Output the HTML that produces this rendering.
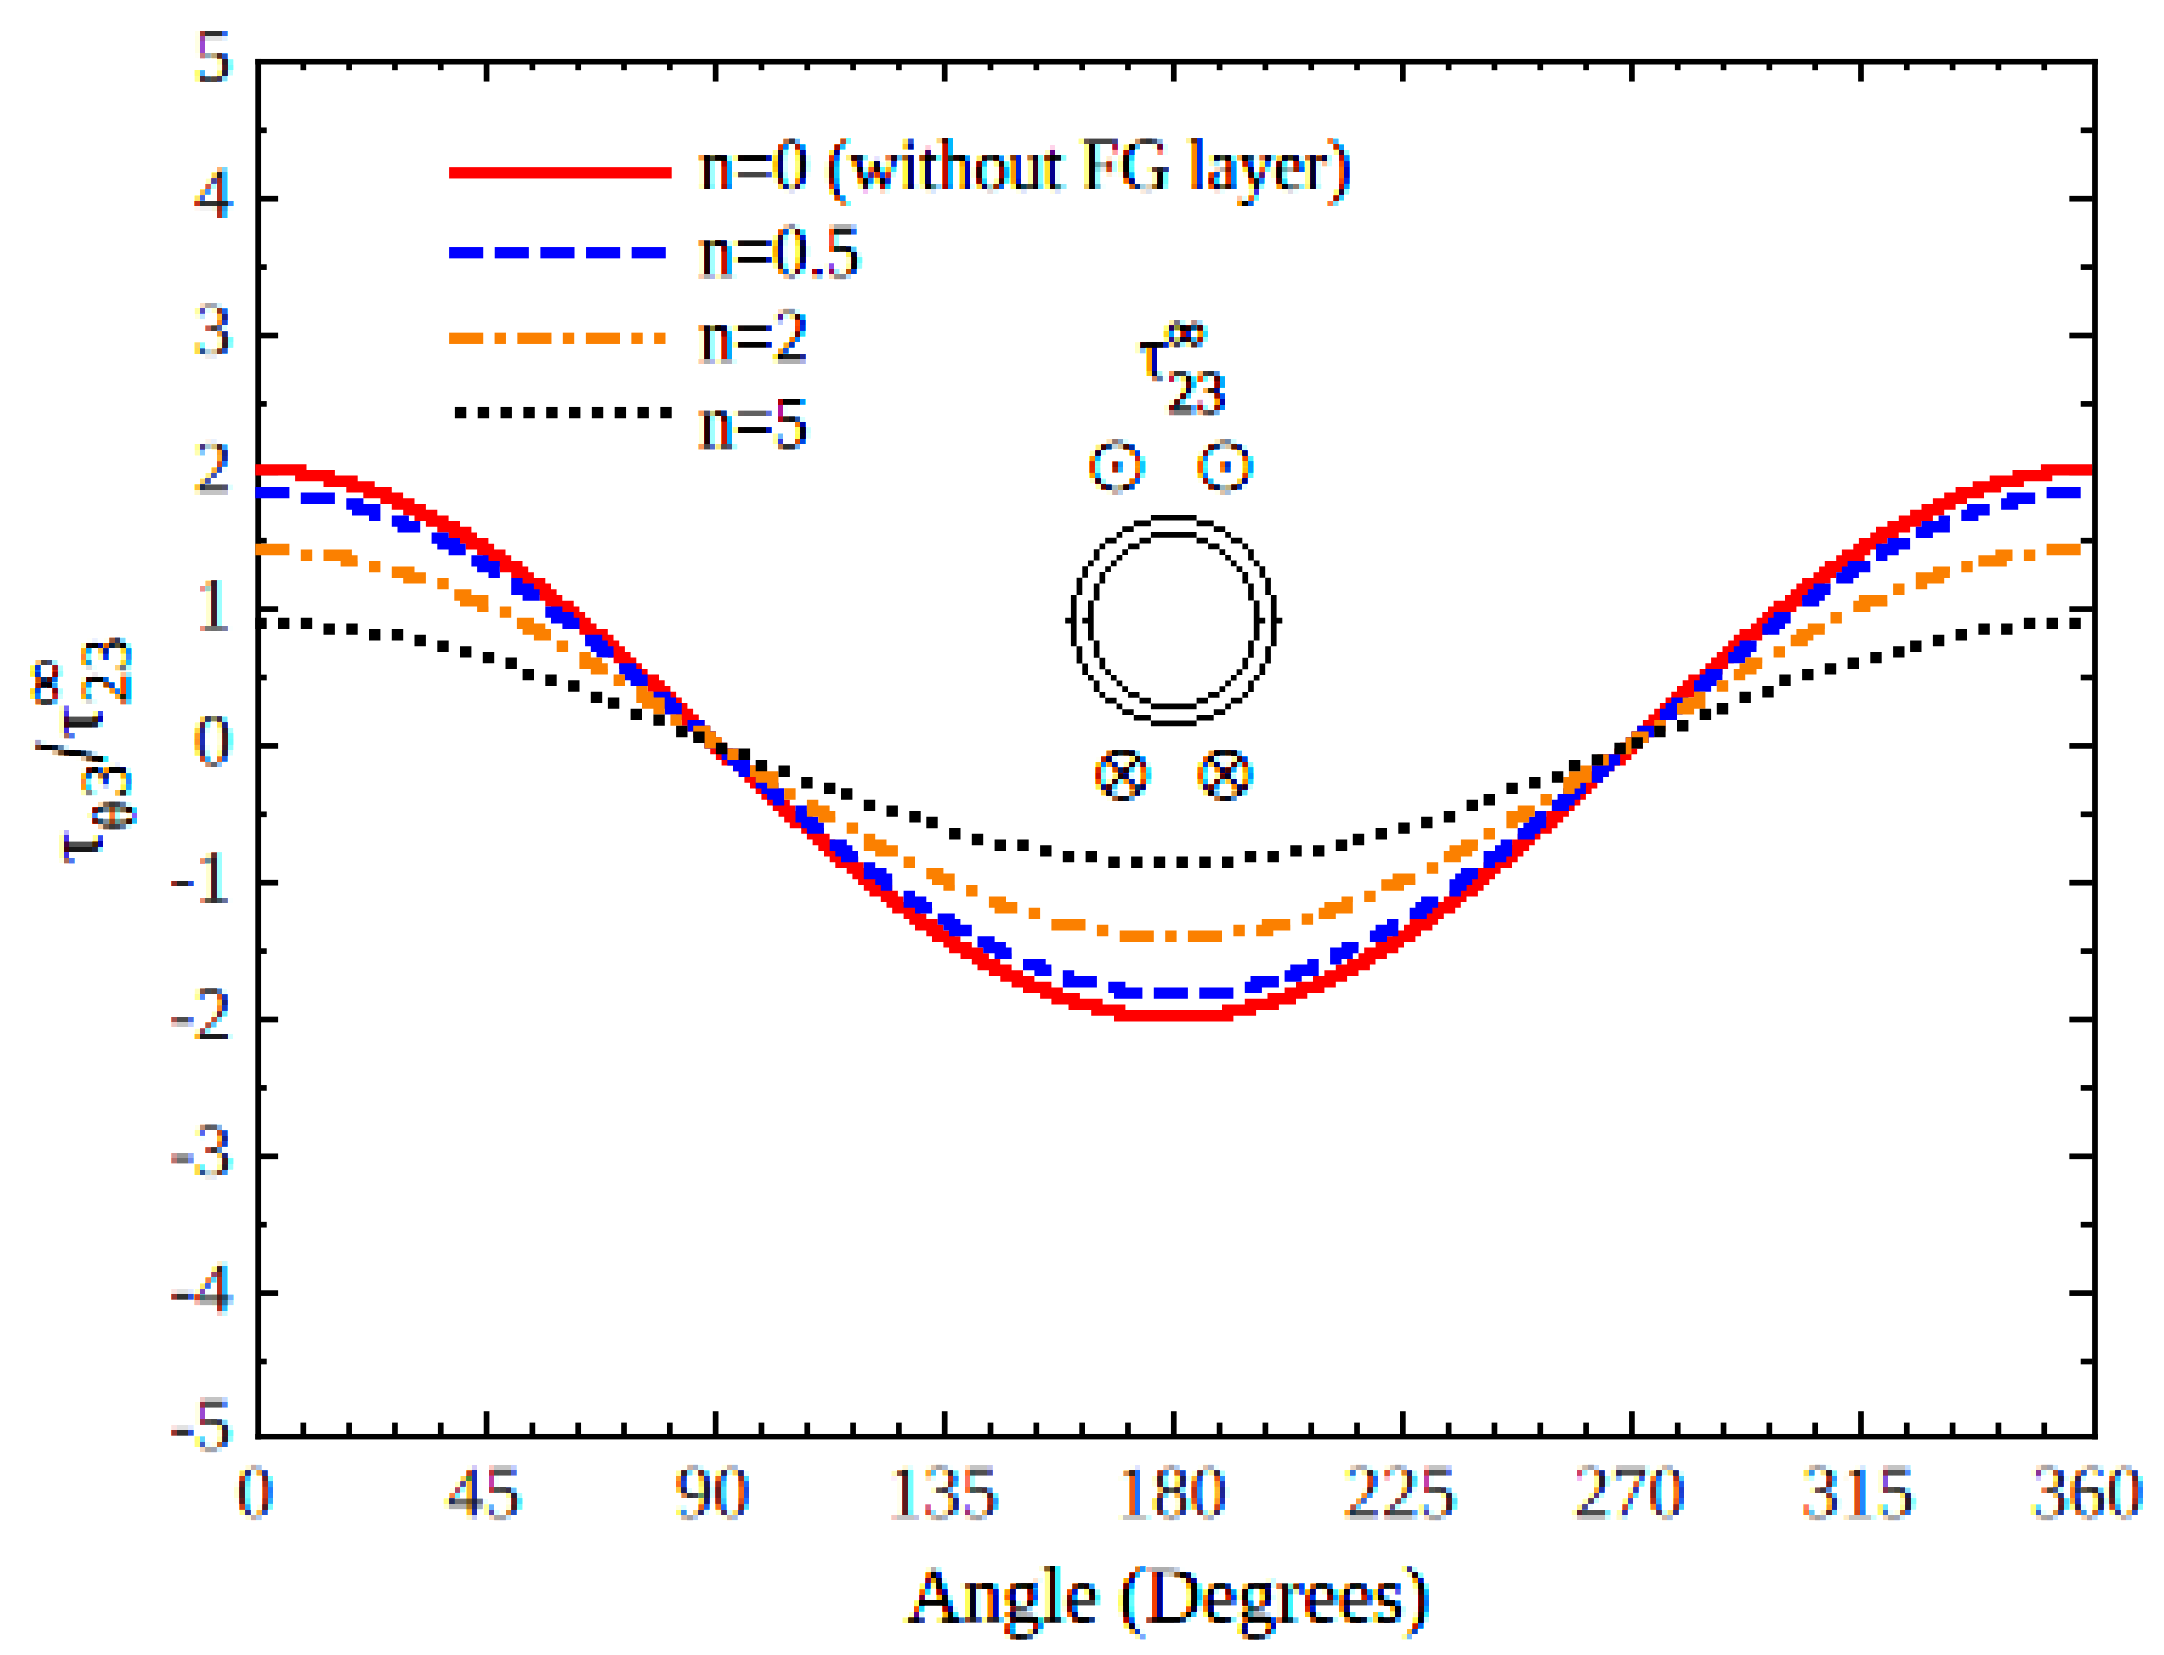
<!DOCTYPE html>
<html lang="en"><head><meta charset="utf-8"><title>Shear stress vs angle</title>
<style>
html,body{margin:0;padding:0;background:#fff}
svg{display:block}
text{font-family:"Liberation Serif","DejaVu Serif",serif;fill:#000;stroke:#000;stroke-width:0px}
.dg{fill-opacity:0.8}
text.ring{font-family:"DejaVu Sans",sans-serif}
</style></head>
<body>
<svg width="2164" height="1655" viewBox="0 0 2164 1655">
<rect width="2164" height="1655" fill="#fff"/>
<defs>
<filter id="pxa" x="0" y="0" width="237" height="1460" filterUnits="userSpaceOnUse" primitiveUnits="userSpaceOnUse" color-interpolation-filters="sRGB">
<feGaussianBlur in="SourceAlpha" stdDeviation="1.2 0.8" result="b0"/>
<feComponentTransfer in="b0" result="b"><feFuncA type="linear" slope="1.25" intercept="-0.1"/></feComponentTransfer>
<feFlood x="3" y="4" width="2" height="2" flood-color="#000" result="f0"/>
<feFlood x="3" y="10" width="2" height="2" flood-color="#000" result="f1"/>
<feFlood x="3" y="16" width="2" height="1" flood-color="#000" result="f2"/>
<feFlood x="9" y="4" width="2" height="2" flood-color="#000" result="f3"/>
<feFlood x="9" y="10" width="2" height="2" flood-color="#000" result="f4"/>
<feFlood x="9" y="16" width="2" height="1" flood-color="#000" result="f5"/>
<feFlood x="15" y="4" width="1" height="2" flood-color="#000" result="f6"/>
<feFlood x="15" y="10" width="1" height="2" flood-color="#000" result="f7"/>
<feFlood x="15" y="16" width="1" height="1" flood-color="#000" result="f8"/>
<feMerge x="1" y="2" width="17" height="17" result="c"><feMergeNode in="f0"/><feMergeNode in="f1"/><feMergeNode in="f2"/><feMergeNode in="f3"/><feMergeNode in="f4"/><feMergeNode in="f5"/><feMergeNode in="f6"/><feMergeNode in="f7"/><feMergeNode in="f8"/></feMerge>
<feTile in="c" result="t"/>
<feOffset in="b" dx="1.9" dy="0" result="or"/>
<feColorMatrix in="or" type="matrix" values="0 0 0 0 1  0 0 0 0 0  0 0 0 0 0  0 0 0 1 0" result="kr"/>
<feColorMatrix in="b" type="matrix" values="0 0 0 0 0  0 0 0 0 1  0 0 0 0 0  0 0 0 1 0" result="kg"/>
<feOffset in="b" dx="-1.9" dy="0" result="ob"/>
<feColorMatrix in="ob" type="matrix" values="0 0 0 0 0  0 0 0 0 0  0 0 0 0 1  0 0 0 1 0" result="kb"/>
<feComposite in="kr" in2="kg" operator="arithmetic" k1="0" k2="1" k3="1" k4="0" result="rg"/>
<feComposite in="rg" in2="kb" operator="arithmetic" k1="0" k2="1" k3="1" k4="0" result="rgb"/>
<feComposite in="rgb" in2="t" operator="in" result="smp"/>
<feComposite in="smp" in2="t" operator="over" result="smo"/>
<feMorphology in="smo" operator="dilate" radius="2" result="pix"/>
<feColorMatrix in="pix" type="matrix" values="-1 0 0 0 1  0 -1 0 0 1  0 0 -1 0 1  0 0 0 0 1"/>
</filter>
<filter id="pxb" x="0" y="1460" width="2164" height="195" filterUnits="userSpaceOnUse" primitiveUnits="userSpaceOnUse" color-interpolation-filters="sRGB">
<feGaussianBlur in="SourceAlpha" stdDeviation="1.2 0.8" result="b0"/>
<feComponentTransfer in="b0" result="b"><feFuncA type="linear" slope="1.25" intercept="-0.1"/></feComponentTransfer>
<feFlood x="3" y="1466" width="2" height="2" flood-color="#000" result="f0"/>
<feFlood x="3" y="1472" width="2" height="2" flood-color="#000" result="f1"/>
<feFlood x="3" y="1478" width="2" height="1" flood-color="#000" result="f2"/>
<feFlood x="9" y="1466" width="2" height="2" flood-color="#000" result="f3"/>
<feFlood x="9" y="1472" width="2" height="2" flood-color="#000" result="f4"/>
<feFlood x="9" y="1478" width="2" height="1" flood-color="#000" result="f5"/>
<feFlood x="15" y="1466" width="1" height="2" flood-color="#000" result="f6"/>
<feFlood x="15" y="1472" width="1" height="2" flood-color="#000" result="f7"/>
<feFlood x="15" y="1478" width="1" height="1" flood-color="#000" result="f8"/>
<feMerge x="1" y="1464" width="17" height="17" result="c"><feMergeNode in="f0"/><feMergeNode in="f1"/><feMergeNode in="f2"/><feMergeNode in="f3"/><feMergeNode in="f4"/><feMergeNode in="f5"/><feMergeNode in="f6"/><feMergeNode in="f7"/><feMergeNode in="f8"/></feMerge>
<feTile in="c" result="t"/>
<feOffset in="b" dx="1.9" dy="0" result="or"/>
<feColorMatrix in="or" type="matrix" values="0 0 0 0 1  0 0 0 0 0  0 0 0 0 0  0 0 0 1 0" result="kr"/>
<feColorMatrix in="b" type="matrix" values="0 0 0 0 0  0 0 0 0 1  0 0 0 0 0  0 0 0 1 0" result="kg"/>
<feOffset in="b" dx="-1.9" dy="0" result="ob"/>
<feColorMatrix in="ob" type="matrix" values="0 0 0 0 0  0 0 0 0 0  0 0 0 0 1  0 0 0 1 0" result="kb"/>
<feComposite in="kr" in2="kg" operator="arithmetic" k1="0" k2="1" k3="1" k4="0" result="rg"/>
<feComposite in="rg" in2="kb" operator="arithmetic" k1="0" k2="1" k3="1" k4="0" result="rgb"/>
<feComposite in="rgb" in2="t" operator="in" result="smp"/>
<feComposite in="smp" in2="t" operator="over" result="smo"/>
<feMorphology in="smo" operator="dilate" radius="2" result="pix"/>
<feColorMatrix in="pix" type="matrix" values="-1 0 0 0 1  0 -1 0 0 1  0 0 -1 0 1  0 0 0 0 1"/>
</filter>
<filter id="pxc" x="690" y="120" width="680" height="350" filterUnits="userSpaceOnUse" primitiveUnits="userSpaceOnUse" color-interpolation-filters="sRGB">
<feGaussianBlur in="SourceAlpha" stdDeviation="1.2 0.8" result="b0"/>
<feComponentTransfer in="b0" result="b"><feFuncA type="linear" slope="1.25" intercept="-0.1"/></feComponentTransfer>
<feFlood x="700" y="123" width="2" height="2" flood-color="#000" result="f0"/>
<feFlood x="700" y="129" width="2" height="2" flood-color="#000" result="f1"/>
<feFlood x="700" y="135" width="2" height="1" flood-color="#000" result="f2"/>
<feFlood x="706" y="123" width="2" height="2" flood-color="#000" result="f3"/>
<feFlood x="706" y="129" width="2" height="2" flood-color="#000" result="f4"/>
<feFlood x="706" y="135" width="2" height="1" flood-color="#000" result="f5"/>
<feFlood x="712" y="123" width="1" height="2" flood-color="#000" result="f6"/>
<feFlood x="712" y="129" width="1" height="2" flood-color="#000" result="f7"/>
<feFlood x="712" y="135" width="1" height="1" flood-color="#000" result="f8"/>
<feMerge x="698" y="121" width="17" height="17" result="c"><feMergeNode in="f0"/><feMergeNode in="f1"/><feMergeNode in="f2"/><feMergeNode in="f3"/><feMergeNode in="f4"/><feMergeNode in="f5"/><feMergeNode in="f6"/><feMergeNode in="f7"/><feMergeNode in="f8"/></feMerge>
<feTile in="c" result="t"/>
<feOffset in="b" dx="1.9" dy="0" result="or"/>
<feColorMatrix in="or" type="matrix" values="0 0 0 0 1  0 0 0 0 0  0 0 0 0 0  0 0 0 1 0" result="kr"/>
<feColorMatrix in="b" type="matrix" values="0 0 0 0 0  0 0 0 0 1  0 0 0 0 0  0 0 0 1 0" result="kg"/>
<feOffset in="b" dx="-1.9" dy="0" result="ob"/>
<feColorMatrix in="ob" type="matrix" values="0 0 0 0 0  0 0 0 0 0  0 0 0 0 1  0 0 0 1 0" result="kb"/>
<feComposite in="kr" in2="kg" operator="arithmetic" k1="0" k2="1" k3="1" k4="0" result="rg"/>
<feComposite in="rg" in2="kb" operator="arithmetic" k1="0" k2="1" k3="1" k4="0" result="rgb"/>
<feComposite in="rgb" in2="t" operator="in" result="smp"/>
<feComposite in="smp" in2="t" operator="over" result="smo"/>
<feMorphology in="smo" operator="dilate" radius="2" result="pix"/>
<feColorMatrix in="pix" type="matrix" values="-1 0 0 0 1  0 -1 0 0 1  0 0 -1 0 1  0 0 0 0 1"/>
</filter>
<filter id="pxd" x="1070" y="300" width="200" height="530" filterUnits="userSpaceOnUse" primitiveUnits="userSpaceOnUse" color-interpolation-filters="sRGB">
<feGaussianBlur in="SourceAlpha" stdDeviation="1.2 0.8" result="b0"/>
<feComponentTransfer in="b0" result="b"><feFuncA type="linear" slope="1.25" intercept="-0.1"/></feComponentTransfer>
<feFlood x="1074" y="310" width="2" height="2" flood-color="#000" result="f0"/>
<feFlood x="1074" y="316" width="2" height="2" flood-color="#000" result="f1"/>
<feFlood x="1074" y="322" width="2" height="1" flood-color="#000" result="f2"/>
<feFlood x="1080" y="310" width="2" height="2" flood-color="#000" result="f3"/>
<feFlood x="1080" y="316" width="2" height="2" flood-color="#000" result="f4"/>
<feFlood x="1080" y="322" width="2" height="1" flood-color="#000" result="f5"/>
<feFlood x="1086" y="310" width="1" height="2" flood-color="#000" result="f6"/>
<feFlood x="1086" y="316" width="1" height="2" flood-color="#000" result="f7"/>
<feFlood x="1086" y="322" width="1" height="1" flood-color="#000" result="f8"/>
<feMerge x="1072" y="308" width="17" height="17" result="c"><feMergeNode in="f0"/><feMergeNode in="f1"/><feMergeNode in="f2"/><feMergeNode in="f3"/><feMergeNode in="f4"/><feMergeNode in="f5"/><feMergeNode in="f6"/><feMergeNode in="f7"/><feMergeNode in="f8"/></feMerge>
<feTile in="c" result="t"/>
<feOffset in="b" dx="1.9" dy="0" result="or"/>
<feColorMatrix in="or" type="matrix" values="0 0 0 0 1  0 0 0 0 0  0 0 0 0 0  0 0 0 1 0" result="kr"/>
<feColorMatrix in="b" type="matrix" values="0 0 0 0 0  0 0 0 0 1  0 0 0 0 0  0 0 0 1 0" result="kg"/>
<feOffset in="b" dx="-1.9" dy="0" result="ob"/>
<feColorMatrix in="ob" type="matrix" values="0 0 0 0 0  0 0 0 0 0  0 0 0 0 1  0 0 0 1 0" result="kb"/>
<feComposite in="kr" in2="kg" operator="arithmetic" k1="0" k2="1" k3="1" k4="0" result="rg"/>
<feComposite in="rg" in2="kb" operator="arithmetic" k1="0" k2="1" k3="1" k4="0" result="rgb"/>
<feComposite in="rgb" in2="t" operator="in" result="smp"/>
<feComposite in="smp" in2="t" operator="over" result="smo"/>
<feMorphology in="smo" operator="dilate" radius="2" result="pix"/>
<feColorMatrix in="pix" type="matrix" values="-1 0 0 0 1  0 -1 0 0 1  0 0 -1 0 1  0 0 0 0 1"/>
</filter>
</defs>
<g filter="url(#pxa)">
<text x="232" y="1449.4" text-anchor="end" font-size="75" class="dg">-5</text>
<text x="232" y="1312.6" text-anchor="end" font-size="75" class="dg">-4</text>
<text x="232" y="1175.8" text-anchor="end" font-size="75" class="dg">-3</text>
<text x="232" y="1039.0" text-anchor="end" font-size="75" class="dg">-2</text>
<text x="232" y="902.2" text-anchor="end" font-size="75" class="dg">-1</text>
<text x="232" y="765.4" text-anchor="end" font-size="75" class="dg">0</text>
<text x="232" y="628.6" text-anchor="end" font-size="75" class="dg">1</text>
<text x="232" y="491.8" text-anchor="end" font-size="75" class="dg">2</text>
<text x="232" y="355.0" text-anchor="end" font-size="75" class="dg">3</text>
<text x="232" y="218.2" text-anchor="end" font-size="75" class="dg">4</text>
<text x="232" y="81.4" text-anchor="end" font-size="75" class="dg">5</text>
<g transform="translate(101,863) rotate(-90)"><text x="0" y="0" font-size="80">τ</text><text x="33" y="33" font-size="60">θ</text><text x="66" y="27" font-size="68">3</text><text transform="translate(102.5,0) scale(0.68,1.1)" x="0" y="0" font-size="88" style="stroke-width:3.2px">/</text><text x="125" y="0" font-size="80">τ</text><text x="158" y="27" font-size="68">23</text><text x="157" y="-36" font-size="66">∞</text></g>
</g>
<g filter="url(#pxb)">
<text x="255.0" y="1516.5" text-anchor="middle" font-size="75" class="dg">0</text>
<text x="484.1" y="1516.5" text-anchor="middle" font-size="75" class="dg">45</text>
<text x="713.1" y="1516.5" text-anchor="middle" font-size="75" class="dg">90</text>
<text x="942.2" y="1516.5" text-anchor="middle" font-size="75" class="dg">135</text>
<text x="1171.3" y="1516.5" text-anchor="middle" font-size="75" class="dg">180</text>
<text x="1400.3" y="1516.5" text-anchor="middle" font-size="75" class="dg">225</text>
<text x="1629.4" y="1516.5" text-anchor="middle" font-size="75" class="dg">270</text>
<text x="1858.5" y="1516.5" text-anchor="middle" font-size="75" class="dg">315</text>
<text x="2087.5" y="1516.5" text-anchor="middle" font-size="75" class="dg">360</text>
<text x="1168" y="1620.5" text-anchor="middle" font-size="79">Angle (Degrees)</text>
</g>
<g filter="url(#pxc)">
<text x="699" y="189.5" font-size="75" textLength="652" lengthAdjust="spacingAndGlyphs">n=0 (without FG layer)</text>
<text x="699" y="275.5" font-size="75" textLength="161.5" lengthAdjust="spacingAndGlyphs">n=0.5</text>
<text x="699" y="361" font-size="75" textLength="109.4" lengthAdjust="spacingAndGlyphs">n=2</text>
<text x="699" y="446.5" font-size="75" textLength="109.4" lengthAdjust="spacingAndGlyphs">n=5</text>
</g>
<g filter="url(#pxd)">
<text x="1138" y="378" font-size="76">τ</text>
<text x="1166" y="350" font-size="56" style="stroke-width:1.6px">∞</text>
<text x="1167" y="412" font-size="59" style="stroke-width:1px">23</text>
<text class="ring" x="1088.0" y="483.5" font-size="66">○</text><text x="1105.2" y="489.8" font-size="70">·</text>
<text class="ring" x="1196.5" y="483.5" font-size="66">○</text><text x="1213.7" y="489.8" font-size="70">·</text>
<text class="ring" x="1093.8" y="791.5" font-size="66">○</text><text x="1100.1" y="801.1" font-size="80" style="stroke-width:0.3px">×</text>
<text class="ring" x="1196.5" y="791.5" font-size="66">○</text><text x="1202.8" y="801.1" font-size="80" style="stroke-width:0.3px">×</text>
</g>
<rect x="255.30" y="58.95" width="5.75" height="1380.45" fill="#000"/>
<rect x="2092.10" y="58.95" width="5.75" height="1380.45" fill="#000"/>
<rect x="255.30" y="58.95" width="1842.55" height="5.55" fill="#000"/>
<rect x="255.30" y="1433.97" width="1842.55" height="5.43" fill="#000"/>
<rect x="300.47" y="64.00" width="5.69" height="6.19" fill="#000"/>
<rect x="300.47" y="1422.60" width="5.69" height="11.87" fill="#000"/>
<rect x="346.28" y="64.00" width="5.69" height="6.19" fill="#000"/>
<rect x="346.28" y="1422.60" width="5.69" height="11.87" fill="#000"/>
<rect x="392.10" y="64.00" width="5.69" height="6.19" fill="#000"/>
<rect x="392.10" y="1422.60" width="5.69" height="11.87" fill="#000"/>
<rect x="437.91" y="64.00" width="5.69" height="6.19" fill="#000"/>
<rect x="437.91" y="1422.60" width="5.69" height="11.87" fill="#000"/>
<rect x="483.72" y="64.00" width="5.69" height="17.56" fill="#000"/>
<rect x="483.72" y="1411.22" width="5.69" height="23.25" fill="#000"/>
<rect x="529.54" y="64.00" width="5.69" height="6.19" fill="#000"/>
<rect x="529.54" y="1422.60" width="5.69" height="11.87" fill="#000"/>
<rect x="575.35" y="64.00" width="5.69" height="6.19" fill="#000"/>
<rect x="575.35" y="1422.60" width="5.69" height="11.87" fill="#000"/>
<rect x="621.17" y="64.00" width="5.69" height="6.19" fill="#000"/>
<rect x="621.17" y="1422.60" width="5.69" height="11.87" fill="#000"/>
<rect x="666.98" y="64.00" width="5.69" height="6.19" fill="#000"/>
<rect x="666.98" y="1422.60" width="5.69" height="11.87" fill="#000"/>
<rect x="712.79" y="64.00" width="5.69" height="17.56" fill="#000"/>
<rect x="712.79" y="1411.22" width="5.69" height="23.25" fill="#000"/>
<rect x="758.61" y="64.00" width="5.69" height="6.19" fill="#000"/>
<rect x="758.61" y="1422.60" width="5.69" height="11.87" fill="#000"/>
<rect x="804.42" y="64.00" width="5.69" height="6.19" fill="#000"/>
<rect x="804.42" y="1422.60" width="5.69" height="11.87" fill="#000"/>
<rect x="850.23" y="64.00" width="5.69" height="6.19" fill="#000"/>
<rect x="850.23" y="1422.60" width="5.69" height="11.87" fill="#000"/>
<rect x="896.05" y="64.00" width="5.69" height="6.19" fill="#000"/>
<rect x="896.05" y="1422.60" width="5.69" height="11.87" fill="#000"/>
<rect x="941.86" y="64.00" width="5.69" height="17.56" fill="#000"/>
<rect x="941.86" y="1411.22" width="5.69" height="23.25" fill="#000"/>
<rect x="987.67" y="64.00" width="5.69" height="6.19" fill="#000"/>
<rect x="987.67" y="1422.60" width="5.69" height="11.87" fill="#000"/>
<rect x="1033.49" y="64.00" width="5.69" height="6.19" fill="#000"/>
<rect x="1033.49" y="1422.60" width="5.69" height="11.87" fill="#000"/>
<rect x="1079.30" y="64.00" width="5.69" height="6.19" fill="#000"/>
<rect x="1079.30" y="1422.60" width="5.69" height="11.87" fill="#000"/>
<rect x="1125.12" y="64.00" width="5.69" height="6.19" fill="#000"/>
<rect x="1125.12" y="1422.60" width="5.69" height="11.87" fill="#000"/>
<rect x="1170.93" y="64.00" width="5.69" height="17.56" fill="#000"/>
<rect x="1170.93" y="1411.22" width="5.69" height="23.25" fill="#000"/>
<rect x="1216.74" y="64.00" width="5.69" height="6.19" fill="#000"/>
<rect x="1216.74" y="1422.60" width="5.69" height="11.87" fill="#000"/>
<rect x="1262.56" y="64.00" width="5.69" height="6.19" fill="#000"/>
<rect x="1262.56" y="1422.60" width="5.69" height="11.87" fill="#000"/>
<rect x="1308.37" y="64.00" width="5.69" height="6.19" fill="#000"/>
<rect x="1308.37" y="1422.60" width="5.69" height="11.87" fill="#000"/>
<rect x="1354.18" y="64.00" width="5.69" height="6.19" fill="#000"/>
<rect x="1354.18" y="1422.60" width="5.69" height="11.87" fill="#000"/>
<rect x="1400.00" y="64.00" width="5.69" height="17.56" fill="#000"/>
<rect x="1400.00" y="1411.22" width="5.69" height="23.25" fill="#000"/>
<rect x="1445.81" y="64.00" width="5.69" height="6.19" fill="#000"/>
<rect x="1445.81" y="1422.60" width="5.69" height="11.87" fill="#000"/>
<rect x="1491.62" y="64.00" width="5.69" height="6.19" fill="#000"/>
<rect x="1491.62" y="1422.60" width="5.69" height="11.87" fill="#000"/>
<rect x="1537.44" y="64.00" width="5.69" height="6.19" fill="#000"/>
<rect x="1537.44" y="1422.60" width="5.69" height="11.87" fill="#000"/>
<rect x="1583.25" y="64.00" width="5.69" height="6.19" fill="#000"/>
<rect x="1583.25" y="1422.60" width="5.69" height="11.87" fill="#000"/>
<rect x="1629.06" y="64.00" width="5.69" height="17.56" fill="#000"/>
<rect x="1629.06" y="1411.22" width="5.69" height="23.25" fill="#000"/>
<rect x="1674.88" y="64.00" width="5.69" height="6.19" fill="#000"/>
<rect x="1674.88" y="1422.60" width="5.69" height="11.87" fill="#000"/>
<rect x="1720.69" y="64.00" width="5.69" height="6.19" fill="#000"/>
<rect x="1720.69" y="1422.60" width="5.69" height="11.87" fill="#000"/>
<rect x="1766.51" y="64.00" width="5.69" height="6.19" fill="#000"/>
<rect x="1766.51" y="1422.60" width="5.69" height="11.87" fill="#000"/>
<rect x="1812.32" y="64.00" width="5.69" height="6.19" fill="#000"/>
<rect x="1812.32" y="1422.60" width="5.69" height="11.87" fill="#000"/>
<rect x="1858.13" y="64.00" width="5.69" height="17.56" fill="#000"/>
<rect x="1858.13" y="1411.22" width="5.69" height="23.25" fill="#000"/>
<rect x="1903.95" y="64.00" width="5.69" height="6.19" fill="#000"/>
<rect x="1903.95" y="1422.60" width="5.69" height="11.87" fill="#000"/>
<rect x="1949.76" y="64.00" width="5.69" height="6.19" fill="#000"/>
<rect x="1949.76" y="1422.60" width="5.69" height="11.87" fill="#000"/>
<rect x="1995.57" y="64.00" width="5.69" height="6.19" fill="#000"/>
<rect x="1995.57" y="1422.60" width="5.69" height="11.87" fill="#000"/>
<rect x="2041.39" y="64.00" width="5.69" height="6.19" fill="#000"/>
<rect x="2041.39" y="1422.60" width="5.69" height="11.87" fill="#000"/>
<rect x="260.55" y="1358.66" width="6.19" height="5.69" fill="#000"/>
<rect x="2080.73" y="1358.66" width="11.87" height="5.69" fill="#000"/>
<rect x="260.55" y="1290.26" width="17.56" height="5.69" fill="#000"/>
<rect x="2069.35" y="1290.26" width="23.25" height="5.69" fill="#000"/>
<rect x="260.55" y="1221.86" width="6.19" height="5.69" fill="#000"/>
<rect x="2080.73" y="1221.86" width="11.87" height="5.69" fill="#000"/>
<rect x="260.55" y="1153.46" width="17.56" height="5.69" fill="#000"/>
<rect x="2069.35" y="1153.46" width="23.25" height="5.69" fill="#000"/>
<rect x="260.55" y="1085.06" width="6.19" height="5.69" fill="#000"/>
<rect x="2080.73" y="1085.06" width="11.87" height="5.69" fill="#000"/>
<rect x="260.55" y="1016.66" width="17.56" height="5.69" fill="#000"/>
<rect x="2069.35" y="1016.66" width="23.25" height="5.69" fill="#000"/>
<rect x="260.55" y="948.26" width="6.19" height="5.69" fill="#000"/>
<rect x="2080.73" y="948.26" width="11.87" height="5.69" fill="#000"/>
<rect x="260.55" y="879.86" width="17.56" height="5.69" fill="#000"/>
<rect x="2069.35" y="879.86" width="23.25" height="5.69" fill="#000"/>
<rect x="260.55" y="811.46" width="6.19" height="5.69" fill="#000"/>
<rect x="2080.73" y="811.46" width="11.87" height="5.69" fill="#000"/>
<rect x="260.55" y="743.06" width="17.56" height="5.69" fill="#000"/>
<rect x="2069.35" y="743.06" width="23.25" height="5.69" fill="#000"/>
<rect x="260.55" y="674.66" width="6.19" height="5.69" fill="#000"/>
<rect x="2080.73" y="674.66" width="11.87" height="5.69" fill="#000"/>
<rect x="260.55" y="606.26" width="17.56" height="5.69" fill="#000"/>
<rect x="2069.35" y="606.26" width="23.25" height="5.69" fill="#000"/>
<rect x="260.55" y="537.86" width="6.19" height="5.69" fill="#000"/>
<rect x="2080.73" y="537.86" width="11.87" height="5.69" fill="#000"/>
<rect x="260.55" y="469.46" width="17.56" height="5.69" fill="#000"/>
<rect x="2069.35" y="469.46" width="23.25" height="5.69" fill="#000"/>
<rect x="260.55" y="401.06" width="6.19" height="5.69" fill="#000"/>
<rect x="2080.73" y="401.06" width="11.87" height="5.69" fill="#000"/>
<rect x="260.55" y="332.66" width="17.56" height="5.69" fill="#000"/>
<rect x="2069.35" y="332.66" width="23.25" height="5.69" fill="#000"/>
<rect x="260.55" y="264.26" width="6.19" height="5.69" fill="#000"/>
<rect x="2080.73" y="264.26" width="11.87" height="5.69" fill="#000"/>
<rect x="260.55" y="195.86" width="17.56" height="5.69" fill="#000"/>
<rect x="2069.35" y="195.86" width="23.25" height="5.69" fill="#000"/>
<rect x="260.55" y="127.46" width="6.19" height="5.69" fill="#000"/>
<rect x="2080.73" y="127.46" width="11.87" height="5.69" fill="#000"/>
<rect x="449.10" y="167.15" width="222.60" height="11.30" fill="#ff0000"/>
<rect x="449.10" y="247.05" width="34.12" height="11.30" fill="#0000ff"/>
<rect x="494.74" y="247.05" width="34.12" height="11.30" fill="#0000ff"/>
<rect x="540.39" y="247.05" width="34.12" height="11.30" fill="#0000ff"/>
<rect x="586.03" y="247.05" width="34.12" height="11.30" fill="#0000ff"/>
<rect x="631.67" y="247.05" width="34.12" height="11.30" fill="#0000ff"/>
<rect x="449.10" y="332.65" width="34.12" height="11.30" fill="#fb8000"/>
<rect x="494.59" y="332.65" width="11.37" height="11.30" fill="#fb8000"/>
<rect x="517.34" y="332.65" width="34.12" height="11.30" fill="#fb8000"/>
<rect x="562.83" y="332.65" width="11.37" height="11.30" fill="#fb8000"/>
<rect x="585.88" y="332.65" width="34.12" height="11.30" fill="#fb8000"/>
<rect x="631.37" y="332.65" width="11.37" height="11.30" fill="#fb8000"/>
<rect x="654.12" y="332.65" width="11.37" height="11.30" fill="#fb8000"/>
<rect x="454.90" y="406.95" width="11.37" height="11.30" fill="#000"/>
<rect x="477.73" y="406.95" width="11.37" height="11.30" fill="#000"/>
<rect x="500.55" y="406.95" width="11.37" height="11.30" fill="#000"/>
<rect x="523.38" y="406.95" width="11.37" height="11.30" fill="#000"/>
<rect x="546.21" y="406.95" width="11.37" height="11.30" fill="#000"/>
<rect x="569.03" y="406.95" width="11.37" height="11.30" fill="#000"/>
<rect x="591.86" y="406.95" width="11.37" height="11.30" fill="#000"/>
<rect x="614.69" y="406.95" width="11.37" height="11.30" fill="#000"/>
<rect x="637.51" y="406.95" width="11.37" height="11.30" fill="#000"/>
<rect x="660.34" y="406.95" width="11.37" height="11.30" fill="#000"/>
<path d="M255.3 464.2h51.2v5.7h-51.2zM2040.9 464.2h51.2v5.7h-51.2zM255.3 469.9h79.6v5.7h-79.6zM2012.5 469.9h79.6v5.7h-79.6zM295.1 475.6h62.6v5.7h-62.6zM1989.7 475.6h62.6v5.7h-62.6zM323.5 481.3h51.2v5.7h-51.2zM1972.7 481.3h51.2v5.7h-51.2zM346.3 486.9h45.5v5.7h-45.5zM1955.6 486.9h45.5v5.7h-45.5zM363.3 492.6h39.8v5.7h-39.8zM1944.2 492.6h39.8v5.7h-39.8zM380.4 498.3h34.1v5.7h-34.1zM1932.9 498.3h34.1v5.7h-34.1zM391.8 504.0h34.1v5.7h-34.1zM1921.5 504.0h34.1v5.7h-34.1zM403.2 509.7h34.1v5.7h-34.1zM1910.1 509.7h34.1v5.7h-34.1zM414.5 515.4h34.1v5.7h-34.1zM1898.8 515.4h34.1v5.7h-34.1zM425.9 521.1h34.1v5.7h-34.1zM1887.4 521.1h34.1v5.7h-34.1zM437.3 526.8h34.1v5.7h-34.1zM1876.0 526.8h34.1v5.7h-34.1zM448.6 532.4h28.4v5.7h-28.4zM1870.3 532.4h28.4v5.7h-28.4zM460.0 538.1h28.4v5.7h-28.4zM1858.9 538.1h28.4v5.7h-28.4zM465.7 543.8h28.4v5.7h-28.4zM1853.3 543.8h28.4v5.7h-28.4zM477.1 549.5h28.4v5.7h-28.4zM1841.9 549.5h28.4v5.7h-28.4zM482.8 555.2h28.4v5.7h-28.4zM1836.2 555.2h28.4v5.7h-28.4zM494.1 560.9h28.4v5.7h-28.4zM1824.8 560.9h28.4v5.7h-28.4zM499.8 566.6h28.4v5.7h-28.4zM1819.1 566.6h28.4v5.7h-28.4zM511.2 572.2h22.7v5.7h-22.7zM1813.5 572.2h22.7v5.7h-22.7zM516.9 577.9h28.4v5.7h-28.4zM1802.1 577.9h28.4v5.7h-28.4zM522.6 583.6h28.4v5.7h-28.4zM1796.4 583.6h28.4v5.7h-28.4zM533.9 589.3h22.7v5.7h-22.7zM1790.7 589.3h22.7v5.7h-22.7zM539.6 595.0h22.7v5.7h-22.7zM1785.0 595.0h22.7v5.7h-22.7zM545.3 600.7h28.4v5.7h-28.4zM1773.6 600.7h28.4v5.7h-28.4zM551.0 606.4h28.4v5.7h-28.4zM1768.0 606.4h28.4v5.7h-28.4zM562.4 612.1h22.7v5.7h-22.7zM1762.3 612.1h22.7v5.7h-22.7zM568.1 617.7h22.7v5.7h-22.7zM1756.6 617.7h22.7v5.7h-22.7zM573.8 623.4h22.7v5.7h-22.7zM1750.9 623.4h22.7v5.7h-22.7zM579.4 629.1h28.4v5.7h-28.4zM1739.5 629.1h28.4v5.7h-28.4zM585.1 634.8h28.4v5.7h-28.4zM1733.8 634.8h28.4v5.7h-28.4zM596.5 640.5h22.7v5.7h-22.7zM1728.2 640.5h22.7v5.7h-22.7zM602.2 646.2h22.7v5.7h-22.7zM1722.5 646.2h22.7v5.7h-22.7zM607.9 651.9h22.7v5.7h-22.7zM1716.8 651.9h22.7v5.7h-22.7zM613.6 657.5h22.7v5.7h-22.7zM1711.1 657.5h22.7v5.7h-22.7zM619.2 663.2h22.7v5.7h-22.7zM1705.4 663.2h22.7v5.7h-22.7zM624.9 668.9h22.7v5.7h-22.7zM1699.7 668.9h22.7v5.7h-22.7zM630.6 674.6h28.4v5.7h-28.4zM1688.3 674.6h28.4v5.7h-28.4zM636.3 680.3h28.4v5.7h-28.4zM1682.7 680.3h28.4v5.7h-28.4zM647.7 686.0h22.7v5.7h-22.7zM1677.0 686.0h22.7v5.7h-22.7zM653.4 691.7h22.7v5.7h-22.7zM1671.3 691.7h22.7v5.7h-22.7zM659.1 697.4h22.7v5.7h-22.7zM1665.6 697.4h22.7v5.7h-22.7zM664.7 703.0h22.7v5.7h-22.7zM1659.9 703.0h22.7v5.7h-22.7zM670.4 708.7h22.7v5.7h-22.7zM1654.2 708.7h22.7v5.7h-22.7zM676.1 714.4h22.7v5.7h-22.7zM1648.5 714.4h22.7v5.7h-22.7zM681.8 720.1h22.7v5.7h-22.7zM1642.9 720.1h22.7v5.7h-22.7zM687.5 725.8h22.7v5.7h-22.7zM1637.2 725.8h22.7v5.7h-22.7zM693.2 731.5h22.7v5.7h-22.7zM1631.5 731.5h22.7v5.7h-22.7zM698.9 737.2h22.7v5.7h-22.7zM1625.8 737.2h22.7v5.7h-22.7zM704.5 742.8h22.7v5.7h-22.7zM1620.1 742.8h22.7v5.7h-22.7zM710.2 748.5h22.7v5.7h-22.7zM1614.4 748.5h22.7v5.7h-22.7zM715.9 754.2h28.4v5.7h-28.4zM1603.0 754.2h28.4v5.7h-28.4zM721.6 759.9h28.4v5.7h-28.4zM1597.4 759.9h28.4v5.7h-28.4zM733.0 765.6h22.7v5.7h-22.7zM1591.7 765.6h22.7v5.7h-22.7zM738.7 771.3h22.7v5.7h-22.7zM1586.0 771.3h22.7v5.7h-22.7zM744.4 777.0h22.7v5.7h-22.7zM1580.3 777.0h22.7v5.7h-22.7zM750.0 782.7h22.7v5.7h-22.7zM1574.6 782.7h22.7v5.7h-22.7zM755.7 788.3h22.7v5.7h-22.7zM1568.9 788.3h22.7v5.7h-22.7zM761.4 794.0h22.7v5.7h-22.7zM1563.2 794.0h22.7v5.7h-22.7zM767.1 799.7h22.7v5.7h-22.7zM1557.6 799.7h22.7v5.7h-22.7zM772.8 805.4h22.7v5.7h-22.7zM1551.9 805.4h22.7v5.7h-22.7zM778.5 811.1h22.7v5.7h-22.7zM1546.2 811.1h22.7v5.7h-22.7zM784.2 816.8h28.4v5.7h-28.4zM1540.5 816.8h22.7v5.7h-22.7zM789.8 822.5h28.4v5.7h-28.4zM1529.1 822.5h28.4v5.7h-28.4zM801.2 828.1h22.7v5.7h-22.7zM1523.4 828.1h28.4v5.7h-28.4zM806.9 833.8h22.7v5.7h-22.7zM1517.7 833.8h22.7v5.7h-22.7zM812.6 839.5h22.7v5.7h-22.7zM1512.1 839.5h22.7v5.7h-22.7zM818.3 845.2h22.7v5.7h-22.7zM1506.4 845.2h22.7v5.7h-22.7zM824.0 850.9h22.7v5.7h-22.7zM1500.7 850.9h22.7v5.7h-22.7zM829.7 856.6h28.4v5.7h-28.4zM1489.3 856.6h28.4v5.7h-28.4zM835.3 862.3h28.4v5.7h-28.4zM1483.6 862.3h28.4v5.7h-28.4zM846.7 868.0h22.7v5.7h-22.7zM1477.9 868.0h22.7v5.7h-22.7zM852.4 873.6h22.7v5.7h-22.7zM1472.3 873.6h22.7v5.7h-22.7zM858.1 879.3h22.7v5.7h-22.7zM1466.6 879.3h22.7v5.7h-22.7zM863.8 885.0h28.4v5.7h-28.4zM1455.2 885.0h28.4v5.7h-28.4zM869.5 890.7h28.4v5.7h-28.4zM1449.5 890.7h28.4v5.7h-28.4zM880.8 896.4h22.7v5.7h-22.7zM1443.8 896.4h22.7v5.7h-22.7zM886.5 902.1h28.4v5.7h-28.4zM1432.4 902.1h28.4v5.7h-28.4zM892.2 907.8h28.4v5.7h-28.4zM1426.8 907.8h28.4v5.7h-28.4zM903.6 913.4h22.7v5.7h-22.7zM1421.1 913.4h22.7v5.7h-22.7zM909.3 919.1h28.4v5.7h-28.4zM1409.7 919.1h28.4v5.7h-28.4zM915.0 924.8h28.4v5.7h-28.4zM1404.0 924.8h28.4v5.7h-28.4zM926.3 930.5h28.4v5.7h-28.4zM1392.6 930.5h28.4v5.7h-28.4zM932.0 936.2h28.4v5.7h-28.4zM1387.0 936.2h28.4v5.7h-28.4zM943.4 941.9h28.4v5.7h-28.4zM1375.6 941.9h28.4v5.7h-28.4zM949.1 947.6h34.1v5.7h-34.1zM1364.2 947.6h34.1v5.7h-34.1zM960.5 953.3h28.4v5.7h-28.4zM1358.5 953.3h28.4v5.7h-28.4zM971.8 958.9h28.4v5.7h-28.4zM1347.1 958.9h28.4v5.7h-28.4zM977.5 964.6h34.1v5.7h-34.1zM1335.8 964.6h34.1v5.7h-34.1zM988.9 970.3h34.1v5.7h-34.1zM1324.4 970.3h34.1v5.7h-34.1zM1000.3 976.0h34.1v5.7h-34.1zM1313.0 976.0h34.1v5.7h-34.1zM1011.6 981.7h39.8v5.7h-39.8zM1296.0 981.7h39.8v5.7h-39.8zM1023.0 987.4h39.8v5.7h-39.8zM1284.6 987.4h39.8v5.7h-39.8zM1040.1 993.1h39.8v5.7h-39.8zM1267.5 993.1h39.8v5.7h-39.8zM1051.4 998.7h51.2v5.7h-51.2zM1244.8 998.7h51.2v5.7h-51.2zM1068.5 1004.4h56.9v5.7h-56.9zM1222.0 1004.4h56.9v5.7h-56.9zM1091.2 1010.1h164.9v5.7h-164.9zM1114.0 1015.8h119.4v5.7h-119.4z" fill="#ff0000"/>
<path d="M255.3 486.9h34.1v5.7h-34.1zM2046.6 486.9h34.1v5.7h-34.1zM255.3 492.6h34.1v5.7h-34.1zM300.8 492.6h34.1v5.7h-34.1zM2006.8 492.6h28.4v5.7h-28.4zM2046.6 492.6h34.1v5.7h-34.1zM300.8 498.3h34.1v5.7h-34.1zM346.3 498.3h17.1v5.7h-17.1zM2001.1 498.3h34.1v5.7h-34.1zM346.3 504.0h34.1v5.7h-34.1zM1967.0 504.0h22.7v5.7h-22.7zM2001.1 504.0h17.1v5.7h-17.1zM352.0 509.7h28.4v5.7h-28.4zM1961.3 509.7h28.4v5.7h-28.4zM369.0 515.4h11.4v5.7h-11.4zM391.8 515.4h17.1v5.7h-17.1zM1938.6 515.4h11.4v5.7h-11.4zM1961.3 515.4h17.1v5.7h-17.1zM391.8 521.1h28.4v5.7h-28.4zM1921.5 521.1h28.4v5.7h-28.4zM397.5 526.8h22.7v5.7h-22.7zM1915.8 526.8h34.1v5.7h-34.1zM431.6 532.4h17.1v5.7h-17.1zM1915.8 532.4h17.1v5.7h-17.1zM431.6 538.1h28.4v5.7h-28.4zM1887.4 538.1h22.7v5.7h-22.7zM437.3 543.8h28.4v5.7h-28.4zM1876.0 543.8h34.1v5.7h-34.1zM448.6 549.5h17.1v5.7h-17.1zM1876.0 549.5h22.7v5.7h-22.7zM471.4 555.2h17.1v5.7h-17.1zM1876.0 555.2h11.4v5.7h-11.4zM471.4 560.9h28.4v5.7h-28.4zM1847.6 560.9h22.7v5.7h-22.7zM477.1 566.6h22.7v5.7h-22.7zM1841.9 566.6h28.4v5.7h-28.4zM488.5 572.2h11.4v5.7h-11.4zM1836.2 572.2h22.7v5.7h-22.7zM511.2 577.9h11.4v5.7h-11.4zM1836.2 577.9h17.1v5.7h-17.1zM511.2 583.6h22.7v5.7h-22.7zM1813.5 583.6h17.1v5.7h-17.1zM511.2 589.3h28.4v5.7h-28.4zM1807.8 589.3h22.7v5.7h-22.7zM522.6 595.0h17.1v5.7h-17.1zM1802.1 595.0h22.7v5.7h-22.7zM1802.1 600.7h17.1v5.7h-17.1zM545.3 606.4h17.1v5.7h-17.1zM545.3 612.1h28.4v5.7h-28.4zM1773.6 612.1h17.1v5.7h-17.1zM551.0 617.7h28.4v5.7h-28.4zM1768.0 617.7h22.7v5.7h-22.7zM562.4 623.4h17.1v5.7h-17.1zM1762.3 623.4h22.7v5.7h-22.7zM1762.3 629.1h17.1v5.7h-17.1zM585.1 634.8h17.1v5.7h-17.1zM585.1 640.5h22.7v5.7h-22.7zM1739.5 640.5h17.1v5.7h-17.1zM590.8 646.2h22.7v5.7h-22.7zM1733.8 646.2h22.7v5.7h-22.7zM596.5 651.9h17.1v5.7h-17.1zM1728.2 651.9h22.7v5.7h-22.7zM1728.2 657.5h17.1v5.7h-17.1zM619.2 663.2h17.1v5.7h-17.1zM619.2 668.9h22.7v5.7h-22.7zM1705.4 668.9h17.1v5.7h-17.1zM624.9 674.6h22.7v5.7h-22.7zM1699.7 674.6h22.7v5.7h-22.7zM630.6 680.3h17.1v5.7h-17.1zM1694.0 680.3h22.7v5.7h-22.7zM1694.0 686.0h17.1v5.7h-17.1zM653.4 691.7h17.1v5.7h-17.1zM653.4 697.4h22.7v5.7h-22.7zM1671.3 697.4h17.1v5.7h-17.1zM659.1 703.0h22.7v5.7h-22.7zM1665.6 703.0h22.7v5.7h-22.7zM664.7 708.7h17.1v5.7h-17.1zM1659.9 708.7h22.7v5.7h-22.7zM1659.9 714.4h17.1v5.7h-17.1zM687.5 720.1h17.1v5.7h-17.1zM687.5 725.8h22.7v5.7h-22.7zM1637.2 725.8h17.1v5.7h-17.1zM693.2 731.5h22.7v5.7h-22.7zM1631.5 731.5h22.7v5.7h-22.7zM698.9 737.2h17.1v5.7h-17.1zM1625.8 737.2h22.7v5.7h-22.7zM704.5 742.8h11.4v5.7h-11.4zM1625.8 742.8h17.1v5.7h-17.1zM721.6 748.5h17.1v5.7h-17.1zM721.6 754.2h22.7v5.7h-22.7zM1603.0 754.2h17.1v5.7h-17.1zM727.3 759.9h22.7v5.7h-22.7zM1597.4 759.9h22.7v5.7h-22.7zM733.0 765.6h17.1v5.7h-17.1zM1591.7 765.6h22.7v5.7h-22.7zM738.7 771.3h11.4v5.7h-11.4zM1591.7 771.3h17.1v5.7h-17.1zM755.7 777.0h17.1v5.7h-17.1zM1591.7 777.0h11.4v5.7h-11.4zM755.7 782.7h22.7v5.7h-22.7zM1568.9 782.7h17.1v5.7h-17.1zM761.4 788.3h22.7v5.7h-22.7zM1563.2 788.3h22.7v5.7h-22.7zM767.1 794.0h17.1v5.7h-17.1zM1557.6 794.0h22.7v5.7h-22.7zM772.8 799.7h11.4v5.7h-11.4zM1551.9 799.7h22.7v5.7h-22.7zM795.5 805.4h11.4v5.7h-11.4zM1551.9 805.4h17.1v5.7h-17.1zM795.5 811.1h17.1v5.7h-17.1zM1534.8 811.1h11.4v5.7h-11.4zM795.5 816.8h22.7v5.7h-22.7zM1529.1 816.8h17.1v5.7h-17.1zM801.2 822.5h22.7v5.7h-22.7zM1523.4 822.5h22.7v5.7h-22.7zM806.9 828.1h17.1v5.7h-17.1zM1517.7 828.1h22.7v5.7h-22.7zM1517.7 833.8h17.1v5.7h-17.1zM829.7 839.5h17.1v5.7h-17.1zM1500.7 839.5h11.4v5.7h-11.4zM829.7 845.2h22.7v5.7h-22.7zM1495.0 845.2h17.1v5.7h-17.1zM835.3 850.9h22.7v5.7h-22.7zM1483.6 850.9h28.4v5.7h-28.4zM841.0 856.6h17.1v5.7h-17.1zM1483.6 856.6h22.7v5.7h-22.7zM863.8 862.3h11.4v5.7h-11.4zM1483.6 862.3h11.4v5.7h-11.4zM863.8 868.0h22.7v5.7h-22.7zM1460.9 868.0h17.1v5.7h-17.1zM863.8 873.6h28.4v5.7h-28.4zM1455.2 873.6h22.7v5.7h-22.7zM875.2 879.3h17.1v5.7h-17.1zM1449.5 879.3h22.7v5.7h-22.7zM880.8 885.0h11.4v5.7h-11.4zM1449.5 885.0h17.1v5.7h-17.1zM903.6 890.7h11.4v5.7h-11.4zM1449.5 890.7h11.4v5.7h-11.4zM903.6 896.4h22.7v5.7h-22.7zM1421.1 896.4h17.1v5.7h-17.1zM903.6 902.1h28.4v5.7h-28.4zM1415.4 902.1h22.7v5.7h-22.7zM915.0 907.8h17.1v5.7h-17.1zM1409.7 907.8h22.7v5.7h-22.7zM937.7 913.4h17.1v5.7h-17.1zM1409.7 913.4h17.1v5.7h-17.1zM937.7 919.1h22.7v5.7h-22.7zM1387.0 919.1h11.4v5.7h-11.4zM943.4 924.8h28.4v5.7h-28.4zM1375.6 924.8h22.7v5.7h-22.7zM949.1 930.5h22.7v5.7h-22.7zM1369.9 930.5h28.4v5.7h-28.4zM977.5 936.2h17.1v5.7h-17.1zM1369.9 936.2h17.1v5.7h-17.1zM977.5 941.9h28.4v5.7h-28.4zM1341.5 941.9h17.1v5.7h-17.1zM983.2 947.6h28.4v5.7h-28.4zM1330.1 947.6h28.4v5.7h-28.4zM994.6 953.3h17.1v5.7h-17.1zM1330.1 953.3h22.7v5.7h-22.7zM1023.0 958.9h22.7v5.7h-22.7zM1307.3 958.9h11.4v5.7h-11.4zM1330.1 958.9h11.4v5.7h-11.4zM1023.0 964.6h28.4v5.7h-28.4zM1290.3 964.6h28.4v5.7h-28.4zM1034.4 970.3h17.1v5.7h-17.1zM1062.8 970.3h11.4v5.7h-11.4zM1284.6 970.3h34.1v5.7h-34.1zM1062.8 976.0h34.1v5.7h-34.1zM1250.5 976.0h28.4v5.7h-28.4zM1284.6 976.0h17.1v5.7h-17.1zM1062.8 981.7h34.1v5.7h-34.1zM1108.3 981.7h17.1v5.7h-17.1zM1244.8 981.7h34.1v5.7h-34.1zM1108.3 987.4h34.1v5.7h-34.1zM1153.8 987.4h34.1v5.7h-34.1zM1199.3 987.4h34.1v5.7h-34.1zM1244.8 987.4h17.1v5.7h-17.1zM1114.0 993.1h28.4v5.7h-28.4zM1153.8 993.1h34.1v5.7h-34.1zM1199.3 993.1h34.1v5.7h-34.1z" fill="#0000ff"/>
<path d="M255.3 543.8h34.1v5.7h-34.1zM2046.6 543.8h34.1v5.7h-34.1zM255.3 549.5h34.1v5.7h-34.1zM300.8 549.5h11.4v5.7h-11.4zM323.5 549.5h28.4v5.7h-28.4zM1995.4 549.5h17.1v5.7h-17.1zM2023.9 549.5h11.4v5.7h-11.4zM2046.6 549.5h34.1v5.7h-34.1zM300.8 555.2h11.4v5.7h-11.4zM323.5 555.2h34.1v5.7h-34.1zM1978.4 555.2h34.1v5.7h-34.1zM2023.9 555.2h11.4v5.7h-11.4zM340.6 560.9h17.1v5.7h-17.1zM369.0 560.9h11.4v5.7h-11.4zM1961.3 560.9h11.4v5.7h-11.4zM1978.4 560.9h28.4v5.7h-28.4zM369.0 566.6h11.4v5.7h-11.4zM391.8 566.6h22.7v5.7h-22.7zM1932.9 566.6h17.1v5.7h-17.1zM1961.3 566.6h11.4v5.7h-11.4zM391.8 572.2h34.1v5.7h-34.1zM1915.8 572.2h34.1v5.7h-34.1zM403.2 577.9h22.7v5.7h-22.7zM437.3 577.9h11.4v5.7h-11.4zM1915.8 577.9h28.4v5.7h-28.4zM437.3 583.6h11.4v5.7h-11.4zM1893.1 583.6h11.4v5.7h-11.4zM1915.8 583.6h11.4v5.7h-11.4zM454.3 589.3h17.1v5.7h-17.1zM1893.1 589.3h11.4v5.7h-11.4zM454.3 595.0h34.1v5.7h-34.1zM1858.9 595.0h28.4v5.7h-28.4zM460.0 600.7h28.4v5.7h-28.4zM1853.3 600.7h34.1v5.7h-34.1zM477.1 606.4h11.4v5.7h-11.4zM499.8 606.4h11.4v5.7h-11.4zM1853.3 606.4h17.1v5.7h-17.1zM499.8 612.1h11.4v5.7h-11.4zM1830.5 612.1h11.4v5.7h-11.4zM516.9 617.7h17.1v5.7h-17.1zM1830.5 617.7h11.4v5.7h-11.4zM516.9 623.4h28.4v5.7h-28.4zM1807.8 623.4h17.1v5.7h-17.1zM522.6 629.1h28.4v5.7h-28.4zM1796.4 629.1h28.4v5.7h-28.4zM533.9 634.8h17.1v5.7h-17.1zM1790.7 634.8h22.7v5.7h-22.7zM556.7 640.5h11.4v5.7h-11.4zM1790.7 640.5h17.1v5.7h-17.1zM556.7 646.2h11.4v5.7h-11.4zM1773.6 646.2h11.4v5.7h-11.4zM579.4 651.9h11.4v5.7h-11.4zM1773.6 651.9h11.4v5.7h-11.4zM579.4 657.5h22.7v5.7h-22.7zM1745.2 657.5h17.1v5.7h-17.1zM579.4 663.2h28.4v5.7h-28.4zM1739.5 663.2h22.7v5.7h-22.7zM590.8 668.9h17.1v5.7h-17.1zM1733.8 668.9h22.7v5.7h-22.7zM613.6 674.6h11.4v5.7h-11.4zM1733.8 674.6h11.4v5.7h-11.4zM613.6 680.3h11.4v5.7h-11.4zM1716.8 680.3h11.4v5.7h-11.4zM636.3 686.0h11.4v5.7h-11.4zM1716.8 686.0h11.4v5.7h-11.4zM636.3 691.7h17.1v5.7h-17.1zM1694.0 691.7h11.4v5.7h-11.4zM636.3 697.4h28.4v5.7h-28.4zM1682.7 697.4h22.7v5.7h-22.7zM642.0 703.0h22.7v5.7h-22.7zM1677.0 703.0h28.4v5.7h-28.4zM653.4 708.7h11.4v5.7h-11.4zM1677.0 708.7h17.1v5.7h-17.1zM670.4 714.4h11.4v5.7h-11.4zM670.4 720.1h11.4v5.7h-11.4zM1654.2 720.1h11.4v5.7h-11.4zM693.2 725.8h17.1v5.7h-17.1zM1654.2 725.8h11.4v5.7h-11.4zM693.2 731.5h22.7v5.7h-22.7zM1631.5 731.5h17.1v5.7h-17.1zM698.9 737.2h22.7v5.7h-22.7zM1625.8 737.2h22.7v5.7h-22.7zM704.5 742.8h17.1v5.7h-17.1zM1620.1 742.8h22.7v5.7h-22.7zM727.3 748.5h11.4v5.7h-11.4zM1620.1 748.5h11.4v5.7h-11.4zM727.3 754.2h11.4v5.7h-11.4zM1597.4 754.2h11.4v5.7h-11.4zM1597.4 759.9h11.4v5.7h-11.4zM750.0 765.6h17.1v5.7h-17.1zM1580.3 765.6h11.4v5.7h-11.4zM750.0 771.3h28.4v5.7h-28.4zM1568.9 771.3h22.7v5.7h-22.7zM755.7 777.0h22.7v5.7h-22.7zM1563.2 777.0h28.4v5.7h-28.4zM767.1 782.7h11.4v5.7h-11.4zM1563.2 782.7h17.1v5.7h-17.1zM784.2 788.3h11.4v5.7h-11.4zM1563.2 788.3h11.4v5.7h-11.4zM784.2 794.0h11.4v5.7h-11.4zM1540.5 794.0h11.4v5.7h-11.4zM806.9 799.7h11.4v5.7h-11.4zM1540.5 799.7h11.4v5.7h-11.4zM806.9 805.4h22.7v5.7h-22.7zM1517.7 805.4h17.1v5.7h-17.1zM806.9 811.1h28.4v5.7h-28.4zM1506.4 811.1h28.4v5.7h-28.4zM818.3 816.8h17.1v5.7h-17.1zM1506.4 816.8h22.7v5.7h-22.7zM846.7 822.5h11.4v5.7h-11.4zM1506.4 822.5h11.4v5.7h-11.4zM846.7 828.1h11.4v5.7h-11.4zM1483.6 828.1h11.4v5.7h-11.4zM863.8 833.8h11.4v5.7h-11.4zM1483.6 833.8h11.4v5.7h-11.4zM863.8 839.5h22.7v5.7h-22.7zM1460.9 839.5h17.1v5.7h-17.1zM863.8 845.2h34.1v5.7h-34.1zM1449.5 845.2h28.4v5.7h-28.4zM875.2 850.9h22.7v5.7h-22.7zM1443.8 850.9h28.4v5.7h-28.4zM903.6 856.6h11.4v5.7h-11.4zM1443.8 856.6h17.1v5.7h-17.1zM903.6 862.3h11.4v5.7h-11.4zM1426.8 862.3h11.4v5.7h-11.4zM926.3 868.0h17.1v5.7h-17.1zM1426.8 868.0h11.4v5.7h-11.4zM926.3 873.6h28.4v5.7h-28.4zM1392.6 873.6h22.7v5.7h-22.7zM932.0 879.3h22.7v5.7h-22.7zM1381.3 879.3h34.1v5.7h-34.1zM943.4 885.0h11.4v5.7h-11.4zM966.1 885.0h11.4v5.7h-11.4zM1381.3 885.0h22.7v5.7h-22.7zM966.1 890.7h11.4v5.7h-11.4zM1364.2 890.7h11.4v5.7h-11.4zM988.9 896.4h17.1v5.7h-17.1zM1341.5 896.4h11.4v5.7h-11.4zM1364.2 896.4h11.4v5.7h-11.4zM988.9 902.1h28.4v5.7h-28.4zM1324.4 902.1h28.4v5.7h-28.4zM994.6 907.8h22.7v5.7h-22.7zM1028.7 907.8h11.4v5.7h-11.4zM1318.7 907.8h34.1v5.7h-34.1zM1028.7 913.4h11.4v5.7h-11.4zM1301.7 913.4h11.4v5.7h-11.4zM1318.7 913.4h17.1v5.7h-17.1zM1051.4 919.1h34.1v5.7h-34.1zM1261.8 919.1h28.4v5.7h-28.4zM1301.7 919.1h11.4v5.7h-11.4zM1051.4 924.8h34.1v5.7h-34.1zM1096.9 924.8h11.4v5.7h-11.4zM1233.4 924.8h11.4v5.7h-11.4zM1256.2 924.8h34.1v5.7h-34.1zM1096.9 930.5h11.4v5.7h-11.4zM1119.7 930.5h34.1v5.7h-34.1zM1165.2 930.5h11.4v5.7h-11.4zM1187.9 930.5h34.1v5.7h-34.1zM1233.4 930.5h11.4v5.7h-11.4zM1256.2 930.5h17.1v5.7h-17.1zM1119.7 936.2h34.1v5.7h-34.1zM1165.2 936.2h11.4v5.7h-11.4zM1187.9 936.2h34.1v5.7h-34.1z" fill="#fb8000"/>
<path d="M255.3 617.7h11.4v5.7h-11.4zM278.0 617.7h11.4v5.7h-11.4zM300.8 617.7h11.4v5.7h-11.4zM2023.9 617.7h11.4v5.7h-11.4zM2046.6 617.7h11.4v5.7h-11.4zM2069.4 617.7h11.4v5.7h-11.4zM255.3 623.4h11.4v5.7h-11.4zM278.0 623.4h11.4v5.7h-11.4zM300.8 623.4h11.4v5.7h-11.4zM323.5 623.4h11.4v5.7h-11.4zM346.3 623.4h11.4v5.7h-11.4zM1978.4 623.4h11.4v5.7h-11.4zM2001.1 623.4h11.4v5.7h-11.4zM2023.9 623.4h11.4v5.7h-11.4zM2046.6 623.4h11.4v5.7h-11.4zM2069.4 623.4h11.4v5.7h-11.4zM323.5 629.1h11.4v5.7h-11.4zM346.3 629.1h11.4v5.7h-11.4zM369.0 629.1h11.4v5.7h-11.4zM391.8 629.1h11.4v5.7h-11.4zM1955.6 629.1h11.4v5.7h-11.4zM1978.4 629.1h11.4v5.7h-11.4zM2001.1 629.1h11.4v5.7h-11.4zM369.0 634.8h11.4v5.7h-11.4zM391.8 634.8h11.4v5.7h-11.4zM414.5 634.8h11.4v5.7h-11.4zM1932.9 634.8h11.4v5.7h-11.4zM1955.6 634.8h11.4v5.7h-11.4zM414.5 640.5h11.4v5.7h-11.4zM437.3 640.5h11.4v5.7h-11.4zM1910.1 640.5h11.4v5.7h-11.4zM1932.9 640.5h11.4v5.7h-11.4zM437.3 646.2h11.4v5.7h-11.4zM460.0 646.2h11.4v5.7h-11.4zM1893.1 646.2h11.4v5.7h-11.4zM1910.1 646.2h11.4v5.7h-11.4zM460.0 651.9h11.4v5.7h-11.4zM482.8 651.9h11.4v5.7h-11.4zM1870.3 651.9h11.4v5.7h-11.4zM1893.1 651.9h11.4v5.7h-11.4zM482.8 657.5h11.4v5.7h-11.4zM505.5 657.5h11.4v5.7h-11.4zM1847.6 657.5h11.4v5.7h-11.4zM1870.3 657.5h11.4v5.7h-11.4zM505.5 663.2h11.4v5.7h-11.4zM1824.8 663.2h11.4v5.7h-11.4zM1847.6 663.2h11.4v5.7h-11.4zM522.6 668.9h11.4v5.7h-11.4zM1802.1 668.9h11.4v5.7h-11.4zM1824.8 668.9h11.4v5.7h-11.4zM522.6 674.6h11.4v5.7h-11.4zM545.3 674.6h11.4v5.7h-11.4zM1779.3 674.6h11.4v5.7h-11.4zM1802.1 674.6h11.4v5.7h-11.4zM545.3 680.3h11.4v5.7h-11.4zM568.1 680.3h11.4v5.7h-11.4zM1779.3 680.3h11.4v5.7h-11.4zM568.1 686.0h11.4v5.7h-11.4zM1762.3 686.0h11.4v5.7h-11.4zM590.8 691.7h11.4v5.7h-11.4zM1739.5 691.7h11.4v5.7h-11.4zM1762.3 691.7h11.4v5.7h-11.4zM590.8 697.4h11.4v5.7h-11.4zM607.9 697.4h11.4v5.7h-11.4zM1739.5 697.4h11.4v5.7h-11.4zM607.9 703.0h11.4v5.7h-11.4zM1716.8 703.0h11.4v5.7h-11.4zM630.6 708.7h11.4v5.7h-11.4zM1699.7 708.7h11.4v5.7h-11.4zM1716.8 708.7h11.4v5.7h-11.4zM630.6 714.4h11.4v5.7h-11.4zM653.4 714.4h11.4v5.7h-11.4zM1699.7 714.4h11.4v5.7h-11.4zM653.4 720.1h11.4v5.7h-11.4zM1677.0 720.1h11.4v5.7h-11.4zM676.1 725.8h11.4v5.7h-11.4zM1654.2 725.8h11.4v5.7h-11.4zM1677.0 725.8h11.4v5.7h-11.4zM676.1 731.5h11.4v5.7h-11.4zM693.2 731.5h11.4v5.7h-11.4zM1654.2 731.5h11.4v5.7h-11.4zM693.2 737.2h11.4v5.7h-11.4zM1631.5 737.2h11.4v5.7h-11.4zM715.9 742.8h11.4v5.7h-11.4zM1614.4 742.8h11.4v5.7h-11.4zM1631.5 742.8h11.4v5.7h-11.4zM715.9 748.5h11.4v5.7h-11.4zM738.7 748.5h11.4v5.7h-11.4zM1614.4 748.5h11.4v5.7h-11.4zM738.7 754.2h11.4v5.7h-11.4zM1591.7 754.2h11.4v5.7h-11.4zM755.7 759.9h11.4v5.7h-11.4zM1568.9 759.9h11.4v5.7h-11.4zM1591.7 759.9h11.4v5.7h-11.4zM755.7 765.6h11.4v5.7h-11.4zM778.5 765.6h11.4v5.7h-11.4zM1568.9 765.6h11.4v5.7h-11.4zM778.5 771.3h11.4v5.7h-11.4zM1551.9 771.3h11.4v5.7h-11.4zM801.2 777.0h11.4v5.7h-11.4zM1529.1 777.0h11.4v5.7h-11.4zM1551.9 777.0h11.4v5.7h-11.4zM801.2 782.7h11.4v5.7h-11.4zM824.0 782.7h11.4v5.7h-11.4zM1506.4 782.7h11.4v5.7h-11.4zM1529.1 782.7h11.4v5.7h-11.4zM824.0 788.3h11.4v5.7h-11.4zM841.0 788.3h11.4v5.7h-11.4zM1506.4 788.3h11.4v5.7h-11.4zM841.0 794.0h11.4v5.7h-11.4zM1483.6 794.0h11.4v5.7h-11.4zM863.8 799.7h11.4v5.7h-11.4zM1466.6 799.7h11.4v5.7h-11.4zM1483.6 799.7h11.4v5.7h-11.4zM863.8 805.4h11.4v5.7h-11.4zM886.5 805.4h11.4v5.7h-11.4zM1466.6 805.4h11.4v5.7h-11.4zM886.5 811.1h11.4v5.7h-11.4zM909.3 811.1h11.4v5.7h-11.4zM1443.8 811.1h11.4v5.7h-11.4zM909.3 816.8h11.4v5.7h-11.4zM926.3 816.8h11.4v5.7h-11.4zM1421.1 816.8h11.4v5.7h-11.4zM1443.8 816.8h11.4v5.7h-11.4zM926.3 822.5h11.4v5.7h-11.4zM1398.3 822.5h11.4v5.7h-11.4zM1421.1 822.5h11.4v5.7h-11.4zM949.1 828.1h11.4v5.7h-11.4zM1375.6 828.1h11.4v5.7h-11.4zM1398.3 828.1h11.4v5.7h-11.4zM949.1 833.8h11.4v5.7h-11.4zM971.8 833.8h11.4v5.7h-11.4zM1352.8 833.8h11.4v5.7h-11.4zM1375.6 833.8h11.4v5.7h-11.4zM971.8 839.5h11.4v5.7h-11.4zM994.6 839.5h11.4v5.7h-11.4zM1017.3 839.5h11.4v5.7h-11.4zM1335.8 839.5h11.4v5.7h-11.4zM1352.8 839.5h11.4v5.7h-11.4zM994.6 845.2h11.4v5.7h-11.4zM1017.3 845.2h11.4v5.7h-11.4zM1040.1 845.2h11.4v5.7h-11.4zM1290.3 845.2h11.4v5.7h-11.4zM1313.0 845.2h11.4v5.7h-11.4zM1335.8 845.2h11.4v5.7h-11.4zM1040.1 850.9h11.4v5.7h-11.4zM1062.8 850.9h11.4v5.7h-11.4zM1085.6 850.9h11.4v5.7h-11.4zM1244.8 850.9h11.4v5.7h-11.4zM1267.5 850.9h11.4v5.7h-11.4zM1290.3 850.9h11.4v5.7h-11.4zM1313.0 850.9h11.4v5.7h-11.4zM1062.8 856.6h11.4v5.7h-11.4zM1085.6 856.6h11.4v5.7h-11.4zM1108.3 856.6h11.4v5.7h-11.4zM1131.1 856.6h11.4v5.7h-11.4zM1153.8 856.6h11.4v5.7h-11.4zM1176.5 856.6h11.4v5.7h-11.4zM1199.3 856.6h11.4v5.7h-11.4zM1222.0 856.6h11.4v5.7h-11.4zM1244.8 856.6h11.4v5.7h-11.4zM1267.5 856.6h11.4v5.7h-11.4zM1108.3 862.3h11.4v5.7h-11.4zM1131.1 862.3h11.4v5.7h-11.4zM1153.8 862.3h11.4v5.7h-11.4zM1176.5 862.3h11.4v5.7h-11.4zM1199.3 862.3h11.4v5.7h-11.4zM1222.0 862.3h11.4v5.7h-11.4z" fill="#000000"/>
<path d="M1150.9 514.9h45.7v5.7h-45.7zM1133.8 520.6h17.1v5.7h-17.1zM1196.6 520.6h17.1v5.7h-17.1zM1122.3 526.3h11.4v5.7h-11.4zM1213.8 526.3h11.4v5.7h-11.4zM1116.6 532.0h5.7v5.7h-5.7zM1150.9 532.0h45.7v5.7h-45.7zM1225.2 532.0h5.7v5.7h-5.7zM1105.2 537.8h11.4v5.7h-11.4zM1139.5 537.8h11.4v5.7h-11.4zM1196.6 537.8h11.4v5.7h-11.4zM1230.9 537.8h11.4v5.7h-11.4zM1099.5 543.5h5.7v5.7h-5.7zM1128.1 543.5h11.4v5.7h-11.4zM1208.1 543.5h11.4v5.7h-11.4zM1242.4 543.5h5.7v5.7h-5.7zM1093.8 549.2h5.7v5.7h-5.7zM1122.3 549.2h5.7v5.7h-5.7zM1219.5 549.2h5.7v5.7h-5.7zM1248.1 549.2h5.7v5.7h-5.7zM1093.8 554.9h5.7v5.7h-5.7zM1116.6 554.9h5.7v5.7h-5.7zM1225.2 554.9h5.7v5.7h-5.7zM1248.1 554.9h5.7v5.7h-5.7zM1088.0 560.6h5.7v5.7h-5.7zM1110.9 560.6h5.7v5.7h-5.7zM1230.9 560.6h5.7v5.7h-5.7zM1253.8 560.6h5.7v5.7h-5.7zM1082.3 566.3h5.7v5.7h-5.7zM1105.2 566.3h5.7v5.7h-5.7zM1236.6 566.3h5.7v5.7h-5.7zM1259.5 566.3h5.7v5.7h-5.7zM1082.3 572.0h5.7v5.7h-5.7zM1099.5 572.0h5.7v5.7h-5.7zM1242.4 572.0h5.7v5.7h-5.7zM1259.5 572.0h5.7v5.7h-5.7zM1076.6 577.8h5.7v5.7h-5.7zM1099.5 577.8h5.7v5.7h-5.7zM1242.4 577.8h5.7v5.7h-5.7zM1265.2 577.8h5.7v5.7h-5.7zM1076.6 583.5h5.7v5.7h-5.7zM1093.8 583.5h5.7v5.7h-5.7zM1248.1 583.5h5.7v5.7h-5.7zM1265.2 583.5h5.7v5.7h-5.7zM1076.6 589.2h5.7v5.7h-5.7zM1093.8 589.2h5.7v5.7h-5.7zM1248.1 589.2h5.7v5.7h-5.7zM1265.2 589.2h5.7v5.7h-5.7zM1070.9 594.9h5.7v5.7h-5.7zM1093.8 594.9h5.7v5.7h-5.7zM1248.1 594.9h5.7v5.7h-5.7zM1270.9 594.9h5.7v5.7h-5.7zM1070.9 600.6h5.7v5.7h-5.7zM1088.0 600.6h5.7v5.7h-5.7zM1253.8 600.6h5.7v5.7h-5.7zM1270.9 600.6h5.7v5.7h-5.7zM1070.9 606.3h5.7v5.7h-5.7zM1088.0 606.3h5.7v5.7h-5.7zM1253.8 606.3h5.7v5.7h-5.7zM1270.9 606.3h5.7v5.7h-5.7zM1070.9 612.1h5.7v5.7h-5.7zM1088.0 612.1h5.7v5.7h-5.7zM1253.8 612.1h5.7v5.7h-5.7zM1270.9 612.1h5.7v5.7h-5.7zM1065.2 617.8h11.4v5.7h-11.4zM1082.3 617.8h11.4v5.7h-11.4zM1253.8 617.8h11.4v5.7h-11.4zM1270.9 617.8h11.4v5.7h-11.4zM1070.9 623.5h5.7v5.7h-5.7zM1088.0 623.5h5.7v5.7h-5.7zM1253.8 623.5h5.7v5.7h-5.7zM1270.9 623.5h5.7v5.7h-5.7zM1070.9 629.2h5.7v5.7h-5.7zM1088.0 629.2h5.7v5.7h-5.7zM1253.8 629.2h5.7v5.7h-5.7zM1270.9 629.2h5.7v5.7h-5.7zM1070.9 634.9h5.7v5.7h-5.7zM1088.0 634.9h5.7v5.7h-5.7zM1253.8 634.9h5.7v5.7h-5.7zM1270.9 634.9h5.7v5.7h-5.7zM1070.9 640.6h5.7v5.7h-5.7zM1093.8 640.6h5.7v5.7h-5.7zM1248.1 640.6h5.7v5.7h-5.7zM1270.9 640.6h5.7v5.7h-5.7zM1076.6 646.3h5.7v5.7h-5.7zM1093.8 646.3h5.7v5.7h-5.7zM1248.1 646.3h5.7v5.7h-5.7zM1265.2 646.3h5.7v5.7h-5.7zM1076.6 652.1h5.7v5.7h-5.7zM1093.8 652.1h5.7v5.7h-5.7zM1248.1 652.1h5.7v5.7h-5.7zM1265.2 652.1h5.7v5.7h-5.7zM1076.6 657.8h5.7v5.7h-5.7zM1099.5 657.8h5.7v5.7h-5.7zM1242.4 657.8h5.7v5.7h-5.7zM1265.2 657.8h5.7v5.7h-5.7zM1082.3 663.5h5.7v5.7h-5.7zM1099.5 663.5h5.7v5.7h-5.7zM1242.4 663.5h5.7v5.7h-5.7zM1259.5 663.5h5.7v5.7h-5.7zM1082.3 669.2h5.7v5.7h-5.7zM1105.2 669.2h5.7v5.7h-5.7zM1236.6 669.2h5.7v5.7h-5.7zM1259.5 669.2h5.7v5.7h-5.7zM1088.0 674.9h5.7v5.7h-5.7zM1110.9 674.9h5.7v5.7h-5.7zM1230.9 674.9h5.7v5.7h-5.7zM1253.8 674.9h5.7v5.7h-5.7zM1093.8 680.6h5.7v5.7h-5.7zM1116.6 680.6h5.7v5.7h-5.7zM1225.2 680.6h5.7v5.7h-5.7zM1248.1 680.6h5.7v5.7h-5.7zM1093.8 686.3h5.7v5.7h-5.7zM1122.3 686.3h5.7v5.7h-5.7zM1219.5 686.3h5.7v5.7h-5.7zM1248.1 686.3h5.7v5.7h-5.7zM1099.5 692.1h5.7v5.7h-5.7zM1128.1 692.1h11.4v5.7h-11.4zM1208.1 692.1h11.4v5.7h-11.4zM1242.4 692.1h5.7v5.7h-5.7zM1105.2 697.8h11.4v5.7h-11.4zM1139.5 697.8h11.4v5.7h-11.4zM1196.6 697.8h11.4v5.7h-11.4zM1230.9 697.8h11.4v5.7h-11.4zM1116.6 703.5h5.7v5.7h-5.7zM1150.9 703.5h45.7v5.7h-45.7zM1225.2 703.5h5.7v5.7h-5.7zM1122.3 709.2h11.4v5.7h-11.4zM1213.8 709.2h11.4v5.7h-11.4zM1133.8 714.9h17.1v5.7h-17.1zM1196.6 714.9h17.1v5.7h-17.1zM1150.9 720.6h45.7v5.7h-45.7z" fill="#000"/>
</svg>
</body></html>
